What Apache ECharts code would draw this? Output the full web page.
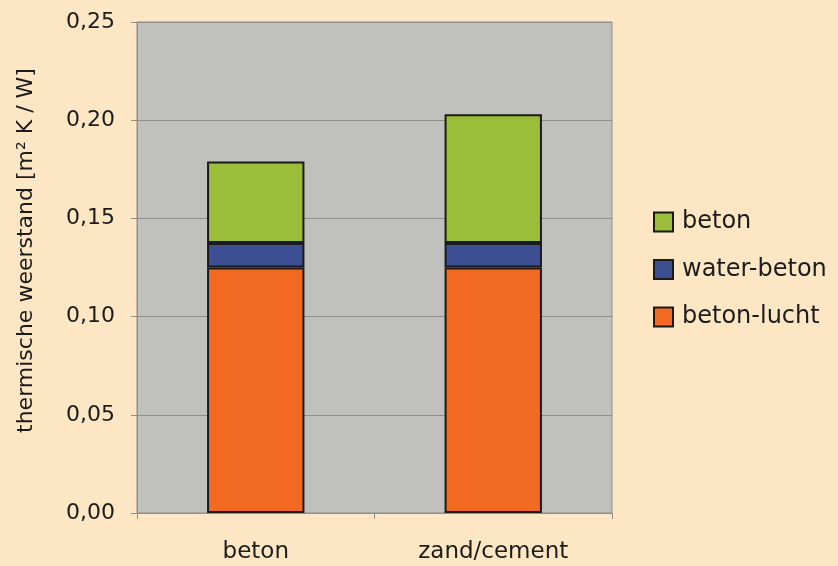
<!DOCTYPE html>
<html>
<head>
<meta charset="utf-8">
<script src="https://cdn.jsdelivr.net/npm/echarts@6/dist/echarts.min.js"></script>
<style>
  html, body { margin: 0; padding: 0; background: #fde6c4; }
  #chart { width: 838px; height: 566px; }
</style>
</head>
<body>
<div id="chart"></div>
<script>
// Thermal resistance per layer, stacked per screed type
const categories = ['beton', 'zand/cement'];
const betonLucht = [0.125, 0.125];
const waterBeton = [0.0125, 0.0125];
const beton = [0.0415, 0.0655];
const yTicks = { min: 0, max: 0.25, interval: 0.05 };

const chart = echarts.init(document.getElementById('chart'), null, { renderer: 'canvas' });

const font = '"DejaVu Sans", Arial, sans-serif';
const ink = '#1c1c1c';
const barBorder = { borderColor: '#1a1a1a', borderWidth: 2 };

chart.setOption({
  backgroundColor: '#fde6c4',
  animation: false,
  grid: {
    left: 137, right: 226, top: 22, bottom: 53,
    containLabel: false,
    outerBoundsMode: 'none',
    show: true,
    backgroundColor: '#c0c0bc',
    borderColor: '#8e8e8a',
    borderWidth: 1
  },
  legend: {
    orient: 'vertical',
    left: 653, top: 210,
    padding: 0,
    itemWidth: 19, itemHeight: 19,
    itemGap: 23.5,
    icon: 'rect',
    data: ['beton', 'water-beton', 'beton-lucht'],
    textStyle: { fontFamily: font, fontSize: 24, lineHeight: 24, color: ink, padding: [0, 0, 0, 4] },
    itemStyle: { borderColor: '#1a1a1a', borderWidth: 2 }
  },
  xAxis: {
    type: 'category',
    data: categories,
    axisLine: { lineStyle: { color: '#8e8e8a', width: 1 } },
    axisTick: { show: true, length: 6, lineStyle: { color: '#8e8e8a' } },
    axisLabel: { fontFamily: font, fontSize: 23, color: ink, margin: 28 }
  },
  yAxis: {
    type: 'value',
    min: yTicks.min, max: yTicks.max, interval: yTicks.interval,
    name: 'thermische weerstand [m² K / W]',
    nameLocation: 'middle',
    nameGap: 100,
    nameTextStyle: { fontFamily: font, fontSize: 22, color: ink, padding: [0, 0, 0, 34] },
    axisLine: { show: true, lineStyle: { color: '#8e8e8a' } },
    axisTick: { show: true, length: 6, lineStyle: { color: '#8e8e8a' } },
    splitLine: { lineStyle: { color: '#8f8f8b', width: 1 } },
    axisLabel: {
      fontFamily: font, fontSize: 22, color: ink, margin: 22,
      formatter: v => v.toFixed(2).replace('.', ',')
    }
  },
  series: [
    { name: 'beton-lucht', type: 'bar', stack: 'r', data: betonLucht, barWidth: '41%',
      itemStyle: Object.assign({ color: '#f26a22' }, barBorder) },
    { name: 'water-beton', type: 'bar', stack: 'r', data: waterBeton,
      itemStyle: Object.assign({ color: '#3c4f93' }, barBorder) },
    { name: 'beton', type: 'bar', stack: 'r', data: beton,
      itemStyle: Object.assign({ color: '#9bbe3a' }, barBorder) }
  ]
});
</script>
</body>
</html>
